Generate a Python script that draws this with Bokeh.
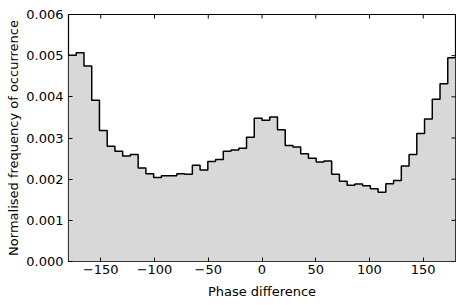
import numpy as np
from bokeh.plotting import figure
from bokeh.models import FixedTicker, Range1d
from bokeh.embed import file_html
from bokeh.resources import INLINE

# Histogram values (50 bins from -180 to 180)
values = [
    0.00501, 0.00507, 0.00475, 0.00392, 0.00318, 0.00280, 0.00268, 0.00256, 0.00260, 0.00227,
    0.00213, 0.00204, 0.00208, 0.00208, 0.00213, 0.00212, 0.00234, 0.00222, 0.00243, 0.00248,
    0.00268, 0.00271, 0.00275, 0.00302, 0.00348, 0.00343, 0.00351, 0.00320, 0.00282, 0.00278,
    0.00262, 0.00251, 0.00242, 0.00244, 0.00212, 0.00195, 0.00185, 0.00188, 0.00184, 0.00177,
    0.00168, 0.00189, 0.00197, 0.00232, 0.00260, 0.00311, 0.00346, 0.00394, 0.00432, 0.00495,
]
x_min, x_max = -180, 180
y_min, y_max = 0.0, 0.006
edges = np.linspace(x_min, x_max, len(values) + 1)

x_ticks = [-150, -100, -50, 0, 50, 100, 150]
x_tick_labels = ["\u2212150", "\u2212100", "\u221250", "0", "50", "100", "150"]
y_ticks = [0.000, 0.001, 0.002, 0.003, 0.004, 0.005, 0.006]
y_tick_labels = ["0.000", "0.001", "0.002", "0.003", "0.004", "0.005", "0.006"]

FONT = "DejaVu Sans"
FS = "13px"

p = figure(width=456, height=303, output_backend="svg", toolbar_location=None,
           x_range=Range1d(x_min, x_max), y_range=Range1d(y_min, y_max),
           min_border_left=68, min_border_right=1, min_border_top=14, min_border_bottom=42)
p.background_fill_color = "white"
p.border_fill_color = "white"
p.grid.visible = False
p.outline_line_color = "black"
p.outline_line_width = 1.2

step_x = list(edges)
step_y = list(values) + [values[-1]]
p.varea_step(x=step_x, y1=[0] * len(step_x), y2=step_y, step_mode="after",
             fill_color="#d8d8d8")
p.step(x=step_x, y=step_y, mode="after", line_color="black", line_width=1.5)

# inward ticks on the top and right edges (mirror of bottom/left axes)
p.scatter(x=x_ticks, y=[y_max] * len(x_ticks), marker="dash", angle=np.pi / 2,
          size=8, line_color="black", line_width=1)
p.scatter(x=[x_max] * len(y_ticks), y=y_ticks, marker="dash",
          size=8, line_color="black", line_width=1)

def style(ax):
    ax.major_tick_in = 4
    ax.major_tick_out = 0
    ax.minor_tick_in = 0
    ax.minor_tick_out = 0
    ax.axis_line_color = None
    ax.major_tick_line_color = "black"
    ax.major_label_text_font = FONT
    ax.major_label_text_font_size = FS
    ax.major_label_text_color = "black"
    ax.axis_label_text_font = FONT
    ax.axis_label_text_font_size = FS
    ax.axis_label_text_font_style = "normal"
    ax.axis_label_text_color = "black"

xa = p.xaxis[0]
xa.ticker = FixedTicker(ticks=x_ticks)
xa.major_label_overrides = dict(zip(x_ticks, x_tick_labels))
xa.axis_label = "Phase difference"
style(xa)
xa.major_label_standoff = 3
xa.axis_label_standoff = 7

ya = p.yaxis[0]
ya.ticker = FixedTicker(ticks=y_ticks)
ya.major_label_overrides = dict(zip(y_ticks, y_tick_labels))
ya.axis_label = "Normalised frequency of occurrence"
style(ya)
ya.major_label_standoff = 5
ya.axis_label_standoff = 2

open("out.html", "w").write(file_html(p, INLINE))
